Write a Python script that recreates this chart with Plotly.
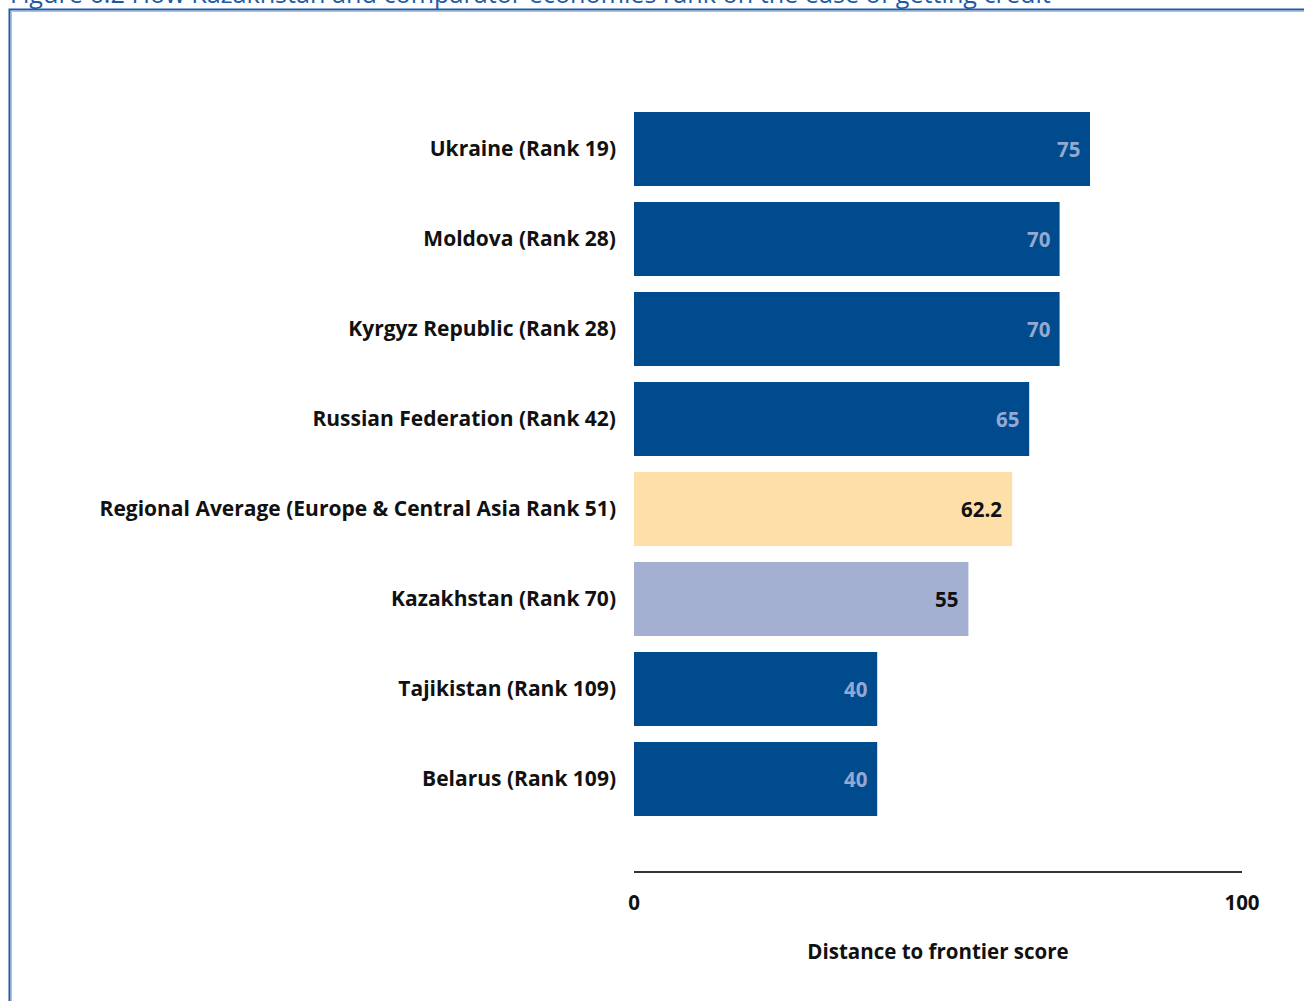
import plotly.graph_objects as go

categories = [
    "Ukraine (Rank 19)",
    "Moldova (Rank 28)",
    "Kyrgyz Republic (Rank 28)",
    "Russian Federation (Rank 42)",
    "Regional Average (Europe & Central Asia Rank 51)",
    "Kazakhstan (Rank 70)",
    "Tajikistan (Rank 109)",
    "Belarus (Rank 109)",
]
scores = [75, 70, 70, 65, 62.2, 55, 40, 40]
score_labels = ["75", "70", "70", "65", "62.2", "55", "40", "40"]
kinds = ["comp", "comp", "comp", "comp", "avg", "focus", "comp", "comp"]

title_text = "Figure 6.2 How Kazakhstan and comparator economies rank on the ease of getting credit"
x_title = "Distance to frontier score"
x_tickvals = [0, 100]
x_ticktext = ["0", "100"]

bar_colors = {"comp": "#004B8D", "avg": "#FEDFA8", "focus": "#A4B0D2"}
label_colors = {"comp": "#93A9D2", "avg": "#111111", "focus": "#111111"}

FONT = "Open Sans"
FS_CAT = 21
FS = 20.5

W, H = 1304, 1001
ML, MR, MT, MB = 634, 62, 60, 130
PW, PH = W - ML - MR, H - MT - MB

def px_x(p):
    return (p - ML) / PW

def px_y(p):
    return (H - MB - p) / PH

cats_r = categories[::-1]
scores_r = scores[::-1]
kinds_r = kinds[::-1]
labels_r = score_labels[::-1]

fig = go.Figure()
fig.add_trace(go.Bar(
    y=list(range(len(cats_r))),
    x=scores_r,
    orientation="h",
    marker=dict(color=[bar_colors[k] for k in kinds_r], line=dict(width=0)),
    hoverinfo="skip",
))

for i, (v, lab, k) in enumerate(zip(scores_r, labels_r, kinds_r)):
    fig.add_annotation(
        x=v, y=i, xref="x", yref="y", text="<b>" + lab + "</b>",
        showarrow=False, xanchor="right", yanchor="middle", xshift=-8,
        font=dict(family=FONT, size=FS, color=label_colors[k]),
    )

fig.update_layout(
    width=W, height=H,
    margin=dict(l=ML, r=MR, t=MT, b=MB),
    plot_bgcolor="white", paper_bgcolor="white",
    showlegend=False,
    bargap=0.18,
    font=dict(family=FONT, color="#111111"),
)
fig.update_yaxes(
    range=[-1.022, 7.989],
    tickvals=list(range(len(cats_r))),
    ticktext=["<b>" + c + "</b>" for c in cats_r],
    tickfont=dict(family=FONT, size=FS_CAT, color="#111111"),
    showgrid=False, zeroline=False, showline=False, ticks="",
    ticklabelstandoff=17,
)
fig.update_xaxes(
    range=[0, 100],
    tickvals=x_tickvals,
    ticktext=["<b>" + t + "</b>" for t in x_ticktext],
    tickfont=dict(family=FONT, size=FS, color="#111111"),
    showgrid=False, zeroline=False,
    showline=True, linecolor="#333333", linewidth=2,
    ticks="", ticklabelstandoff=12,
    title=dict(text="<b>" + x_title + "</b>", font=dict(family=FONT, size=FS, color="#111111"), standoff=30),
)

# frame border (dark line with a lighter inner line)
fig.add_shape(
    type="rect", xref="paper", yref="paper",
    x0=px_x(11.5), x1=px_x(W + 20), y0=px_y(H + 20), y1=px_y(11.5),
    line=dict(color="#A9C1E0", width=1), fillcolor="rgba(0,0,0,0)", layer="above",
)
fig.add_shape(
    type="rect", xref="paper", yref="paper",
    x0=px_x(9.5), x1=px_x(W + 20), y0=px_y(H + 20), y1=px_y(9.5),
    line=dict(color="#1F5BA5", width=2), fillcolor="rgba(0,0,0,0)", layer="above",
)

fig.add_annotation(
    x=px_x(8), y=px_y(12), xref="paper", yref="paper",
    text=title_text, showarrow=False, xanchor="left", yanchor="bottom",
    font=dict(family="Open Sans", size=25.2, color="#1F5BA5"),
)

fig.write_html("out.html", config={"displayModeBar": False},
               post_script="document.body.style.margin='0px';")
